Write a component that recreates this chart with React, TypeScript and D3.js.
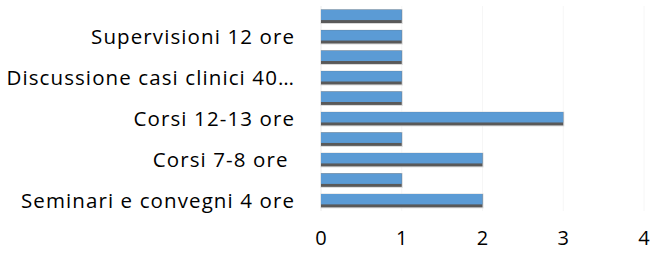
import React from 'react';
import * as d3 from 'd3';

const width = 653;
const height = 259;

// bottom to top; only every other label is shown on the axis
const categories = [
  'Seminari e convegni 4 ore',
  'Seminari e convegni 8 ore',
  'Corsi 7-8 ore ',
  'Corsi 10 ore',
  'Corsi 12-13 ore',
  'Corsi 20 ore',
  'Discussione casi clinici 40…',
  'Discussione casi clinici 20 ore',
  'Supervisioni 12 ore',
  'Supervisioni 24 ore',
];
const values = [2, 1, 2, 1, 3, 1, 1, 1, 1, 1];
const xTicks = [0, 1, 2, 3, 4];

const margin = {left: 321, right: 9, top: 6, bottom: 48};

export default function App() {
  const x = d3.scaleLinear().domain([0, 4]).range([margin.left, width - margin.right]);
  const y = d3.scaleBand<number>()
    .domain(d3.range(categories.length).reverse())
    .range([margin.top, height - margin.bottom])
    .paddingInner(0.35)
    .paddingOuter(0.18);

  const bh = y.bandwidth();
  const font = '"Open Sans", sans-serif';

  return (
    <svg width={width} height={height} style={{position: 'absolute', left: 0, top: 0}}>
      {xTicks.map(t => (
        <line key={t} x1={x(t)} x2={x(t)} y1={margin.top} y2={height - margin.bottom}
              stroke={t === 0 ? '#ececec' : '#f6f6f6'} strokeWidth={1}/>
      ))}
      {values.map((v, i) => {
        const yy = y(i)!;
        return (
          <g key={i}>
            <rect x={x(0) - 0.5} y={yy - 0.5} width={x(v) - x(0) + 1.5} height={bh + 1.5} fill="#d9d9d9"/>
            <rect x={x(0)} y={yy} width={x(v) - x(0)} height={bh} fill="#595959"/>
            <rect x={x(0)} y={yy} width={x(v) - x(0)} height={bh * 0.78} fill="#5b9bd5"/>
          </g>
        );
      })}
      {categories.map((c, i) => i % 2 === 0 ? (
        <text key={c} x={295} y={y(i)! + bh / 2} dy="0.36em" textAnchor="end"
              fontFamily={font} fontSize={20.5} letterSpacing={1.1} fill="#000"
              style={{whiteSpace: 'pre'}}>{c}</text>
      ) : null)}
      {xTicks.map(t => (
        <text key={t} x={x(t)} y={245} textAnchor="middle" fontFamily={font} fontSize={20} fill="#000">{t}</text>
      ))}
    </svg>
  );
}
